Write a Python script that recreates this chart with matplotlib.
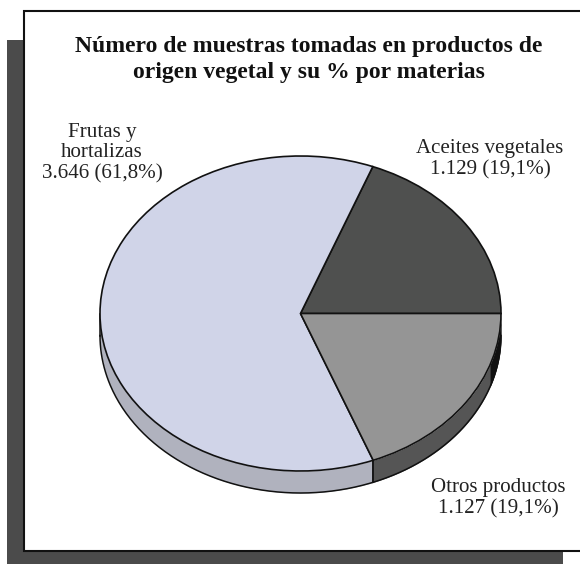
import numpy as np
import matplotlib
matplotlib.use("Agg")
import matplotlib.pyplot as plt
from matplotlib.patches import Rectangle

W, H = 580, 564
categories = ["Aceites vegetales", "Frutas y\nhortalizas", "Otros productos"]
values = [1129, 3646, 1127]
pct_labels = ["1.129 (19,1%)", "3.646 (61,8%)", "1.127 (19,1%)"]
top_colors = ["#4f504f", "#d0d4e8", "#959595"]
side_colors = ["#505050", "#b0b2be", "#555555"]
title = "Número de muestras tomadas en productos de\norigen vegetal y su % por materias"

plt.rcParams["font.family"] = ["Liberation Serif", "DejaVu Serif"]
fig = plt.figure(figsize=(W / 100, H / 100), dpi=100, facecolor="white")
bg = fig.add_axes([0, 0, 1, 1])
bg.set_xlim(0, W); bg.set_ylim(H, 0); bg.axis("off")
bg.add_patch(Rectangle((7, 40), 556, 524, fc="#4b4b4b", ec="none"))
bg.add_patch(Rectangle((24, 11), 580, 540, fc="white", ec="#111111", lw=1.5))

L, R, T, B = 100, 501, 156, 471
DEPTH = 22
ax = fig.add_axes([L / W, 1 - B / H, (R - L) / W, (B - T) / H])
depth = 2 * DEPTH / (B - T)

edges = np.concatenate([[0], np.cumsum(values)]) / sum(values) * 360
for a0, a1, c in zip(edges[:-1], edges[1:], side_colors):
    lo, hi = max(a0, 180), min(a1, 360)
    if hi <= lo:
        continue
    t = np.radians(np.linspace(lo, hi, 200))
    x = np.cos(t)
    ax.fill_between(x, np.sin(t), np.sin(t) - depth, color=c, lw=0, clip_on=False, zorder=1)
    ax.plot(x, np.sin(t) - depth, color="#111111", lw=1.1, clip_on=False, zorder=2)
    ax.plot([x[0], x[0]], [np.sin(t[0]), np.sin(t[0]) - depth], color="#111111", lw=1.1, clip_on=False, zorder=2)
    if hi < 360:
        ax.plot([x[-1], x[-1]], [np.sin(t[-1]), np.sin(t[-1]) - depth], color="#111111", lw=1.1, clip_on=False, zorder=2)
    else:
        # shaded crescent at the right end of the rim
        s = np.radians(np.linspace(341, 360, 60))
        ax.fill_between(np.cos(s), np.sin(s), np.sin(s) - depth, color="#111111", lw=0, clip_on=False, zorder=1.5)

wedges, _ = ax.pie(values, colors=top_colors, startangle=0, counterclock=True, radius=1,
                   wedgeprops=dict(edgecolor="#111111", linewidth=1.2))
for w in wedges:
    w.set_zorder(3)
ax.set_aspect("auto")
ax.set_xlim(-1, 1)
ax.set_ylim(-1, 1)
ax.patch.set_alpha(0)

bg.text(309, 59.5, title, ha="center", va="center", fontsize=17, fontweight="bold",
        color="#111111", linespacing=1.28)
txt = dict(ha="center", va="center", fontsize=15.1, color="#222222", linespacing=1.13)
bg.text(102, 153, categories[1] + "\n" + pct_labels[1], **txt)
bg.text(490, 159.5, categories[0] + "\n" + pct_labels[0], **txt)
bg.text(498, 498, categories[2] + "\n" + pct_labels[2], **txt)

fig.savefig("out.png", dpi=100)
